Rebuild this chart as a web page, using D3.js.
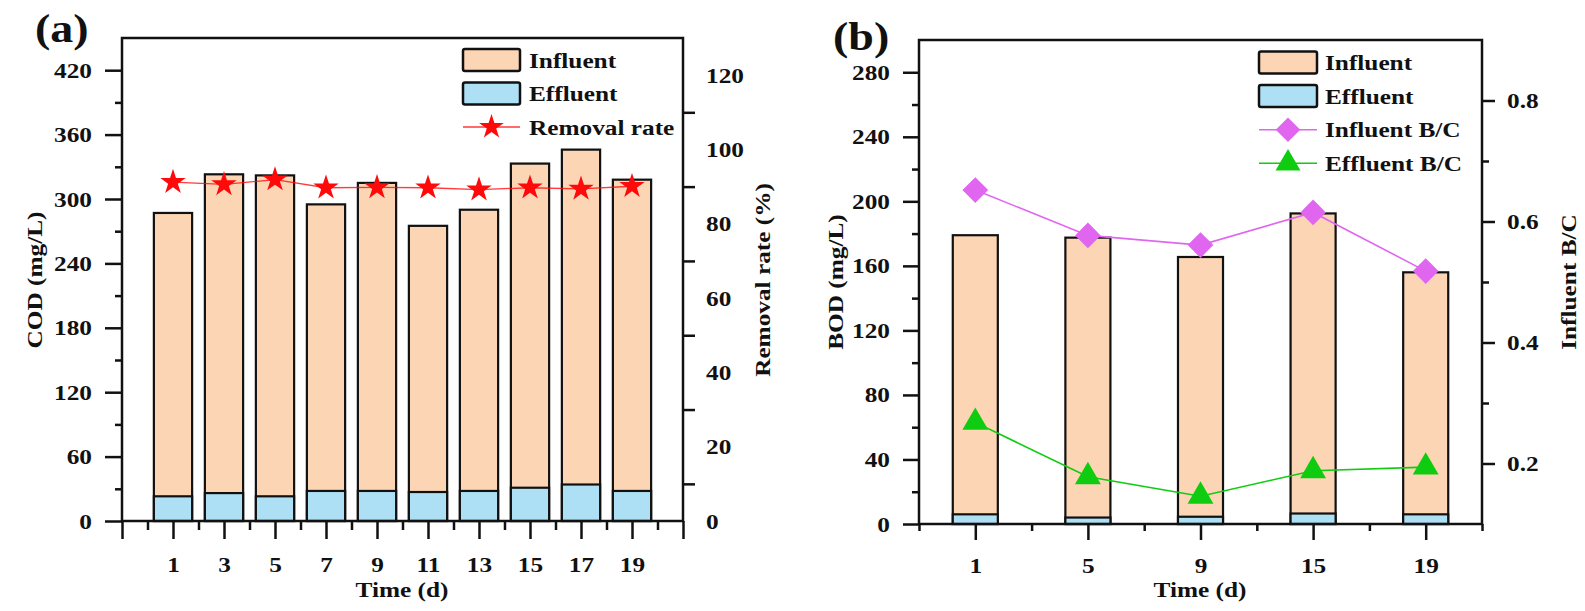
<!DOCTYPE html>
<html>
<head>
<meta charset="utf-8">
<script src="https://cdn.jsdelivr.net/npm/d3@7"></script>
<style>
  body { margin: 0; background: #fff; }
  text { font-family: "Liberation Serif", "Times New Roman", serif; font-weight: bold; fill: #111; }
</style>
</head>
<body>
<script>
// ---- data: panel (a) COD ----
const daysA = [1, 3, 5, 7, 9, 11, 13, 15, 17, 19];
const codInfluent = [287, 323, 322, 295, 315, 275, 290, 333, 346, 318];
const codEffluent = [23, 26, 23, 28, 28, 27, 28, 31, 34, 28];
const removalRate = [91.2, 90.6, 91.9, 89.7, 89.8, 89.7, 89.2, 89.7, 89.4, 90.1];

// ---- data: panel (b) BOD ----
const daysB = ["1", "5", "9", "15", "19"];
const bodInfluent = [179, 177.5, 165.5, 192.5, 156];
const bodEffluent = [6, 4, 4.5, 6.5, 6];
const influentBC = [0.652, 0.577, 0.561, 0.615, 0.518];
const effluentBC = [0.268, 0.178, 0.146, 0.188, 0.194];

const width = 1585, height = 611;
const SX = 1.15; // glyphs in the figure are wider than Times
const colInf = "#FCD5B5", colEff = "#AEE0F5";
const colRed = "#FF0A0A", colPurple = "#E066F0", colGreen = "#10CC10";

const svg = d3.select("body").append("svg")
    .attr("width", width)
    .attr("height", height);

function label(x, y, txt, size, anchor, rot) {
    svg.append("text")
        .attr("transform", `translate(${x},${y})` + (rot ? ` rotate(${rot})` : "") + ` scale(${SX},1)`)
        .attr("text-anchor", anchor || "start")
        .style("font-size", size + "px")
        .text(txt);
}

// widen axis labels without moving them
function widen(sel) {
    sel.selectAll("text").style("font-size", "22px").each(function() {
        const t = d3.select(this);
        if (t.attr("x") !== null) t.attr("x", +t.attr("x") / SX);
        t.attr("transform", `scale(${SX},1)`);
    });
}

function styleAxis(g) {
    g.select(".domain").remove();
    g.selectAll("line").attr("stroke", "#111").attr("stroke-width", 2.5);
}

function axis(gen, tx, ty) {
    const g = svg.append("g").attr("transform", `translate(${tx},${ty})`).call(gen);
    styleAxis(g);
    widen(g);
    return g;
}

// ================= panel (a) =================
const xA = d3.scaleLinear().domain([-1, 21]).range([122, 683]);
const yA = d3.scaleLinear().domain([0, 450]).range([521, 38]);
const rA = d3.scaleLinear().domain([0, 130]).range([521, 38]);
const bwA = xA(1.5) - xA(0);

const barsA = svg.append("g");
barsA.selectAll(".inf").data(daysA).enter().append("rect")
    .attr("x", d => xA(d) - bwA / 2)
    .attr("y", (d, i) => yA(codInfluent[i]))
    .attr("width", bwA)
    .attr("height", (d, i) => yA(0) - yA(codInfluent[i]))
    .attr("fill", colInf).attr("stroke", "#111").attr("stroke-width", 2.2);
barsA.selectAll(".eff").data(daysA).enter().append("rect")
    .attr("x", d => xA(d) - bwA / 2)
    .attr("y", (d, i) => yA(codEffluent[i]))
    .attr("width", bwA)
    .attr("height", (d, i) => yA(0) - yA(codEffluent[i]))
    .attr("fill", colEff).attr("stroke", "#111").attr("stroke-width", 2.2);

svg.append("path")
    .datum(daysA.map((d, i) => [d, removalRate[i]]))
    .attr("d", d3.line().x(d => xA(d[0])).y(d => rA(d[1])))
    .attr("fill", "none").attr("stroke", colRed).attr("stroke-width", 1.3).attr("opacity", 0.8);
svg.selectAll(".star").data(daysA).enter().append("path")
    .attr("transform", (d, i) => `translate(${xA(d)},${rA(removalRate[i])})`)
    .attr("d", d3.symbol(d3.symbolStar, 200))
    .attr("fill", colRed);

// frame
svg.append("rect").attr("x", 122).attr("y", 38).attr("width", 683 - 122).attr("height", 521 - 38)
    .attr("fill", "none").attr("stroke", "#111").attr("stroke-width", 2.5);

// axes
axis(d3.axisLeft(yA).tickValues(d3.range(0, 421, 60)).tickSize(17).tickPadding(13), 122, 0);
axis(d3.axisLeft(yA).tickValues(d3.range(30, 450, 60)).tickSize(7).tickFormat(""), 122, 0);
axis(d3.axisBottom(xA).tickValues(d3.range(-1, 22, 2)).tickSize(18).tickPadding(17)
    .tickFormat(d => (d < 0 || d > 20) ? "" : d), 0, 521);
axis(d3.axisBottom(xA).tickValues(d3.range(0, 21, 2)).tickSize(9).tickFormat(""), 0, 521);
axis(d3.axisRight(rA).tickValues(d3.range(0, 121, 20)).tickSize(0).tickPadding(23), 683, 0);
axis(d3.axisRight(rA).tickValues(d3.range(10, 121, 20)).tickSize(12).tickFormat(""), 683, 0);

label(35, 42, "(a)", 40, "start");
label(42, 280, "COD (mg/L)", 22, "middle", -90);
label(770, 280, "Removal rate (%)", 22, "middle", -90);
label(402, 597, "Time (d)", 22, "middle");

// legend (a)
const legA = [
    { name: "Influent", type: "box", fill: colInf },
    { name: "Effluent", type: "box", fill: colEff },
    { name: "Removal rate", type: "star", fill: colRed }
];
legA.forEach((d, i) => {
    const cy = 60 + i * 33.5;
    if (d.type === "box") {
        svg.append("rect").attr("x", 463).attr("y", cy - 11).attr("width", 57).attr("height", 22).attr("rx", 2)
            .attr("fill", d.fill).attr("stroke", "#111").attr("stroke-width", 2.5);
    } else {
        svg.append("line").attr("x1", 463).attr("x2", 520).attr("y1", cy).attr("y2", cy)
            .attr("stroke", d.fill).attr("stroke-width", 1.3).attr("opacity", 0.8);
        svg.append("path").attr("transform", `translate(491.5,${cy})`)
            .attr("d", d3.symbol(d3.symbolStar, 190)).attr("fill", d.fill);
    }
    label(529, cy + 7.5, d.name, 22, "start");
});

// ================= panel (b) =================
const xB = d3.scaleLinear().domain([-0.5, 4.5]).range([919, 1482]);
const yB = d3.scaleLinear().domain([0, 300]).range([524, 40]);
const bcB = d3.scaleLinear().domain([0.1, 0.9]).range([524, 40]);
const bwB = xB(0.4) - xB(0);

const barsB = svg.append("g");
barsB.selectAll(".inf").data(daysB).enter().append("rect")
    .attr("x", (d, i) => xB(i) - bwB / 2)
    .attr("y", (d, i) => yB(bodInfluent[i]))
    .attr("width", bwB)
    .attr("height", (d, i) => yB(0) - yB(bodInfluent[i]))
    .attr("fill", colInf).attr("stroke", "#111").attr("stroke-width", 2.2);
barsB.selectAll(".eff").data(daysB).enter().append("rect")
    .attr("x", (d, i) => xB(i) - bwB / 2)
    .attr("y", (d, i) => yB(bodEffluent[i]))
    .attr("width", bwB)
    .attr("height", (d, i) => yB(0) - yB(bodEffluent[i]))
    .attr("fill", colEff).attr("stroke", "#111").attr("stroke-width", 2.2);

const lineB = d3.line().x(d => xB(d[0])).y(d => bcB(d[1]));
svg.append("path")
    .datum(influentBC.map((v, i) => [i, v]))
    .attr("d", lineB).attr("fill", "none").attr("stroke", colPurple).attr("stroke-width", 1.6);
svg.append("path")
    .datum(effluentBC.map((v, i) => [i, v]))
    .attr("d", lineB).attr("fill", "none").attr("stroke", colGreen).attr("stroke-width", 1.6);

svg.selectAll(".dia").data(influentBC).enter().append("path")
    .attr("transform", (v, i) => `translate(${xB(i)},${bcB(v)}) rotate(45)`)
    .attr("d", d3.symbol(d3.symbolSquare, 330))
    .attr("fill", colPurple);
svg.selectAll(".tri").data(effluentBC).enter().append("path")
    .attr("transform", (v, i) => `translate(${xB(i)},${bcB(v)})`)
    .attr("d", d3.symbol(d3.symbolTriangle, 290))
    .attr("fill", colGreen);

svg.append("rect").attr("x", 919).attr("y", 40).attr("width", 1482 - 919).attr("height", 524 - 40)
    .attr("fill", "none").attr("stroke", "#111").attr("stroke-width", 2.5);

axis(d3.axisLeft(yB).tickValues(d3.range(0, 281, 40)).tickSize(16).tickPadding(13), 919, 0);
axis(d3.axisLeft(yB).tickValues(d3.range(20, 300, 40)).tickSize(7).tickFormat(""), 919, 0);
axis(d3.axisBottom(xB).tickValues(d3.range(0, 5)).tickSize(16).tickPadding(17)
    .tickFormat(i => daysB[i]), 0, 524);
axis(d3.axisBottom(xB).tickValues(d3.range(-0.5, 4.6, 1)).tickSize(7).tickFormat(""), 0, 524);
axis(d3.axisRight(bcB).tickValues([0.2, 0.4, 0.6, 0.8]).tickSize(13).tickPadding(12)
    .tickFormat(d3.format(".1f")), 1482, 0);
axis(d3.axisRight(bcB).tickValues([0.3, 0.5, 0.7]).tickSize(7).tickFormat(""), 1482, 0);

label(833, 50, "(b)", 40, "start");
label(843, 282, "BOD (mg/L)", 22, "middle", -90);
label(1576, 282, "Influent B/C", 22, "middle", -90);
label(1200, 597, "Time (d)", 22, "middle");

const legB = [
    { name: "Influent", type: "box", fill: colInf },
    { name: "Effluent", type: "box", fill: colEff },
    { name: "Influent B/C", type: "dia", fill: colPurple },
    { name: "Effluent B/C", type: "tri", fill: colGreen }
];
legB.forEach((d, i) => {
    const cy = 62.5 + i * 33.6;
    if (d.type === "box") {
        svg.append("rect").attr("x", 1259).attr("y", cy - 11).attr("width", 58).attr("height", 22).attr("rx", 2)
            .attr("fill", d.fill).attr("stroke", "#111").attr("stroke-width", 2.5);
    } else {
        svg.append("line").attr("x1", 1259).attr("x2", 1317).attr("y1", cy).attr("y2", cy)
            .attr("stroke", d.fill).attr("stroke-width", 1.6);
        svg.append("path")
            .attr("transform", `translate(1288,${cy})` + (d.type === "dia" ? " rotate(45)" : ""))
            .attr("d", d3.symbol(d.type === "dia" ? d3.symbolSquare : d3.symbolTriangle, d.type === "dia" ? 300 : 270))
            .attr("fill", d.fill);
    }
    label(1325, cy + 7.5, d.name, 22, "start");
});
</script>
</body>
</html>
